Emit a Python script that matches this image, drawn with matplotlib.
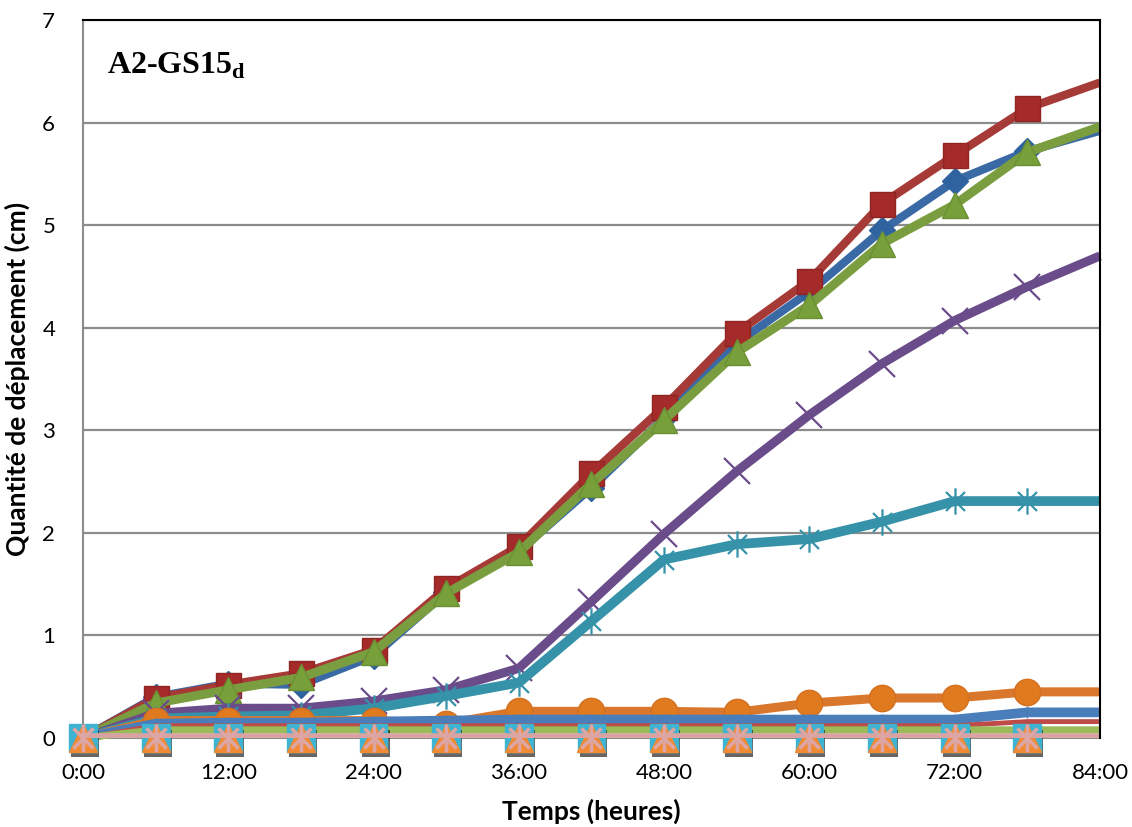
import matplotlib
matplotlib.use("Agg")
import matplotlib.pyplot as plt
from matplotlib.path import Path
import matplotlib.patheffects as pe

# ---------------- data ----------------
hours = [0, 6, 12, 18, 24, 30, 36, 42, 48, 54, 60, 66, 72, 78, 84]
xtick_hours = [0, 12, 24, 36, 48, 60, 72, 84]
xtick_labels = ["0:00", "12:00", "24:00", "36:00", "48:00", "60:00", "72:00", "84:00"]
ytick_values = [0, 1, 2, 3, 4, 5, 6, 7]

s_blue   = [0, 0.40, 0.53, 0.52, 0.80, 1.42, 1.82, 2.44, 3.12, 3.85, 4.35, 4.95, 5.43, 5.72, 5.92]
s_red    = [0, 0.39, 0.52, 0.63, 0.86, 1.46, 1.87, 2.58, 3.23, 3.95, 4.46, 5.21, 5.68, 6.14, 6.39]
s_green  = [0, 0.34, 0.47, 0.59, 0.84, 1.41, 1.81, 2.48, 3.10, 3.76, 4.22, 4.82, 5.20, 5.71, 5.96]
s_purple = [0, 0.24, 0.29, 0.29, 0.36, 0.47, 0.68, 1.33, 1.99, 2.60, 3.15, 3.65, 4.07, 4.40, 4.70]
s_teal   = [0, 0.19, 0.21, 0.22, 0.29, 0.41, 0.54, 1.14, 1.74, 1.89, 1.94, 2.11, 2.31, 2.31, 2.31]
s_orange = [0, 0.17, 0.17, 0.17, 0.17, 0.14, 0.26, 0.26, 0.26, 0.25, 0.34, 0.39, 0.39, 0.45, 0.45]
s_blue2  = [0, 0.14, 0.15, 0.15, 0.16, 0.17, 0.18, 0.18, 0.18, 0.18, 0.18, 0.18, 0.18, 0.25, 0.25]
s_red2   = [0, 0.12, 0.12, 0.12, 0.12, 0.12, 0.12, 0.12, 0.12, 0.12, 0.12, 0.12, 0.12, 0.16, 0.16]
s_green2 = [0, 0.08, 0.08, 0.08, 0.08, 0.08, 0.08, 0.08, 0.08, 0.08, 0.08, 0.08, 0.08, 0.08, 0.08]
s_cyan0  = [0] * 15
s_orng0  = [0] * 15
s_pink0  = [0] * 15

# ---------------- style ----------------
plt.rcParams["font.family"] = ["Lato", "DejaVu Sans"]
plt.rcParams["mathtext.fontset"] = "custom"
plt.rcParams["mathtext.bf"] = "Liberation Serif:bold"
plt.rcParams["mathtext.rm"] = "Liberation Serif"

asterisk = Path([(0, -1), (0, 1), (-0.72, -0.72), (0.72, 0.72), (-0.72, 0.72), (0.72, -0.72)],
                [Path.MOVETO, Path.LINETO, Path.MOVETO, Path.LINETO, Path.MOVETO, Path.LINETO])

fig = plt.figure(figsize=(11.32, 8.27), dpi=100)
ax = fig.add_axes([0.0733, 0.1076, 0.8984, 0.8682])

mk = slice(0, 14)  # no marker on last point

series = [
    # values, line color, lw, marker, msize, mfc, mec, mew
    (s_blue,   "#3A6AA6", 6.0, "D", 13, "#2F63A0", "#2F63A0", 1),
    (s_red,    "#A53A37", 6.0, "s", 18, "#A52B2A", "#8E2523", 1),
    (s_green,  "#7A9E3F", 6.5, "^", 19, "#77A03A", "#6B8F33", 1),
    (s_purple, "#6A4C8A", 6.5, "x", 19, "none", "#6A4C8A", 1.6),
    (s_teal,   "#3592A8", 7.0, asterisk, 19, "none", "#3592A8", 1.6),
    (s_orange, "#D9782C", 6.5, "o", 19, "#E07A1F", "#D47020", 1),
    (s_blue2,  "#4A7EBB", 7.0, "|", 8, "#4A7EBB", "#4A7EBB", 1),
    (s_red2,   "#BE4B48", 3.5, None, 0, "none", "none", 0),
    (s_green2, "#9BBB59", 5.0, None, 0, "none", "none", 0),
]
z = 3
for vals, col, lw, m, ms, mfc, mec, mew in series:
    ax.plot(hours, vals, color=col, lw=lw, solid_capstyle="butt", solid_joinstyle="round",
            zorder=z, clip_on=False)
    if m is not None:
        ax.plot(hours, vals, linestyle="none", marker=m, markersize=ms, markerfacecolor=mfc,
                markeredgecolor=mec, markeredgewidth=mew, markevery=mk, zorder=z + 0.5,
                clip_on=False)
    z += 1

shadow = [pe.SimplePatchShadow(offset=(1.5, -4), shadow_rgbFace="black", alpha=0.6), pe.Normal()]

# zero series
ax.plot(hours, s_cyan0, color="#4BACC6", lw=4, zorder=z, solid_capstyle="butt")
ax.plot(hours, s_cyan0, linestyle="none", marker="s", markersize=20, markerfacecolor="#3EB3D2",
        markeredgecolor="#3EB3D2", markevery=mk, zorder=z + 0.5, clip_on=False, path_effects=shadow)
z += 1
ax.plot(hours, s_orng0, color="#F79646", lw=4, zorder=z, solid_capstyle="butt")
ax.plot(hours, s_orng0, linestyle="none", marker="^", markersize=20, markerfacecolor="#F08A34",
        markeredgecolor="#F08A34", markevery=mk, zorder=z + 0.5, clip_on=False)
z += 1
ax.plot(hours, s_pink0, color="#D8A3A2", lw=7, zorder=z, solid_capstyle="butt")
ax.plot(hours, s_pink0, linestyle="none", marker=asterisk, markersize=20, markerfacecolor="none",
        markeredgecolor="#DDA5A4", markeredgewidth=2.6, markevery=mk, zorder=z + 0.5, clip_on=False)

# ---------------- axes ----------------
ax.set_xlim(0, 84)
ax.set_ylim(0, 7)
ax.set_xticks(xtick_hours)
ax.set_xticklabels(xtick_labels)
ax.set_yticks(ytick_values)
ax.yaxis.grid(True, color="#8C8C8C", lw=1.6, zorder=0)
ax.set_axisbelow(True)
ax.tick_params(axis="both", length=0, labelsize=16, colors="black")
ax.tick_params(axis="x", pad=18)
ax.tick_params(axis="y", pad=20)

for side in ["top", "right"]:
    ax.spines[side].set_color("black")
    ax.spines[side].set_linewidth(1.5)
for side in ["left", "bottom"]:
    ax.spines[side].set_color("#8C8C8C")
    ax.spines[side].set_linewidth(1.5)
ax.spines["top"].set_zorder(20)
ax.spines["right"].set_zorder(20)

ax.set_xlabel("Temps (heures)", fontsize=19, fontweight="bold")
ax.set_ylabel("Quantité de déplacement (cm)", fontsize=19, fontweight="bold")
ax.xaxis.set_label_coords(0.5, -0.085)
ax.yaxis.set_label_coords(-0.052, 0.5)

ax.text(0.0236, 0.926, r"A2-GS15$_{\mathbf{d}}$", transform=ax.transAxes,
        fontsize=23, fontweight="bold", family="Liberation Serif", va="baseline", ha="left")

fig.savefig("out.png", dpi=100)
